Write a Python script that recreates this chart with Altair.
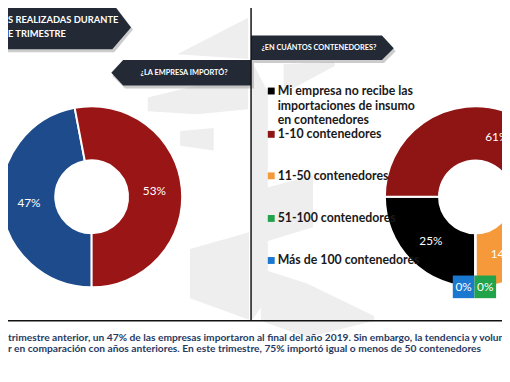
import math
import altair as alt
import pandas as pd

# ---------------- data ----------------
imp_cats = ["Sí", "No"]
imp_vals = [47, 53]
imp_colors = ["#1d4b8c", "#9a1515"]

cont_cats = [
    "Mi empresa no recibe las importaciones de insumo en contenedores",
    "1-10 contenedores",
    "11-50 contenedores",
    "51-100 contenedores",
    "Más de 100 contenedores",
]
cont_vals = [25, 61, 14, 0, 0]
cont_colors = ["#000000", "#8f1414", "#f6993a", "#20a34a", "#1b78d0"]
legend_lines = [
    ["Mi empresa no recibe las", "importaciones de insumo", "en contenedores"],
    ["1-10 contenedores"],
    ["11-50 contenedores"],
    ["51-100 contenedores"],
    ["Más de 100 contenedores"],
]

title_lines = ["S REALIZADAS DURANTE", "E TRIMESTRE"]
q1 = "¿LA EMPRESA IMPORTÓ?"
q2 = "¿EN CUÁNTOS CONTENEDORES?"
foot_lines = [
    "trimestre anterior, un 47% de las empresas importaron al final del año 2019. Sin embargo, la  tendencia y volumen",
    "r en comparación con años anteriores. En este trimestre, 75% importó igual o menos de 50 contenedores",
]

# ---------------- layout ----------------
W, H = 502, 355
FONT = "Lato"
DARK = "#232a36"
WM = "#eeeeee"
LCX, LCY = 85, 189
RCX, RCY = 475, 189
R_OUT, R_IN, R_LAB = 92, 37, 64
theta_scale = alt.Scale(range=[math.pi, 3 * math.pi])


def polygon(xs, ys, y2s, color, opacity=1.0, off=8):
    df = pd.DataFrame({"x": [v - off for v in xs], "y": [v - off for v in ys], "y2": [v - off for v in y2s]})
    return alt.Chart(df).mark_area(color=color, orient="vertical", opacity=opacity).encode(
        x=alt.X("x:Q", scale=None, axis=None),
        y=alt.Y("y:Q", scale=None, axis=None),
        y2="y2:Q",
    )


def text_at(txt, x, y, size, color, bold=True, align="left"):
    return alt.Chart(pd.DataFrame({"t": [txt]})).mark_text(
        font=FONT, fontSize=size, fontWeight="bold" if bold else "normal",
        color=color, align=align, baseline="middle",
    ).encode(text="t:N", x=alt.value(x), y=alt.value(y))


# faint background watermark shapes (page coordinates)
wm = [
    polygon([180, 252], [52, 15], [52, 57], WM),
    polygon([150, 200, 252], [96, 84, 84], [110, 113, 108], WM),
    polygon([183, 217], [130, 127], [145, 150], WM),
    polygon([193, 253], [250, 233], [300, 322], WM),
    polygon([256, 272], [60, 90], [322, 300], WM),
    polygon([262, 318], [190, 175], [245, 228], WM),
    polygon([265, 312, 380], [270, 285, 318], [323, 340, 323], WM),
    polygon([288, 340], [62, 60], [92, 64], WM),
]

# banners (with soft shadows), page coordinates
b1_sh = polygon([0, 116, 135], [2, 2, 27], [50, 50, 27], "#9a9a9a", 0.5)
b1 = polygon([0, 114, 133], [0, 0, 25], [47, 47, 25], DARK)
b2_sh = polygon([114, 127, 258], [74, 61, 61], [74, 87, 87], "#9a9a9a", 0.5)
b2 = polygon([113, 125, 255], [71, 58, 58], [71, 84, 84], DARK)
b3_sh = polygon([255, 390, 402], [36, 36, 49], [61, 61, 49], "#9a9a9a", 0.5)
b3 = polygon([255, 388, 400], [33, 33, 46], [58, 58, 46], DARK)

t1 = text_at(title_lines[0], 0, 9, 9.5, "white")
t2 = text_at(title_lines[1], 0, 24, 9.5, "white")
t3 = text_at(q1, 179, 63, 7.5, "white", align="center")
t4 = text_at(q2, 316, 38, 7.5, "white", align="center")

# dividers
vrule = alt.Chart(pd.DataFrame({"a": [0]})).mark_rule(color="#111111", strokeWidth=1.5).encode(
    x=alt.value(247), y=alt.value(-8), y2=alt.value(315))
hrule = alt.Chart(pd.DataFrame({"a": [0]})).mark_rule(color="#111111", strokeWidth=1.5).encode(
    x=alt.value(-8), x2=alt.value(W), y=alt.value(315))

# left donut
df_imp = pd.DataFrame({"cat": imp_cats, "value": imp_vals, "idx": range(len(imp_cats))})
df_imp["label"] = [f"{v}%" for v in imp_vals]
base_l = alt.Chart(df_imp).encode(
    theta=alt.Theta("value:Q", stack=True, scale=theta_scale),
    order=alt.Order("idx:Q"),
    x=alt.value(LCX), y=alt.value(LCY),
)
arc_l = base_l.mark_arc(outerRadius=R_OUT, innerRadius=R_IN, stroke="white", strokeWidth=2).encode(
    color=alt.Color("cat:N", scale=alt.Scale(domain=imp_cats, range=imp_colors), legend=None))
lab_l = base_l.mark_text(radius=R_LAB, font=FONT, fontSize=12, color="white").encode(text="label:N")

# right donut
df_c = pd.DataFrame({"cat": cont_cats, "value": cont_vals, "idx": range(len(cont_cats))})
df_c["label"] = [f"{v}%" for v in cont_vals]
base_r = alt.Chart(df_c).encode(
    theta=alt.Theta("value:Q", stack=True, scale=theta_scale),
    order=alt.Order("idx:Q"),
    x=alt.value(RCX), y=alt.value(RCY),
)
arc_r = base_r.mark_arc(outerRadius=R_OUT, innerRadius=R_IN, stroke="white", strokeWidth=2).encode(
    color=alt.Color("cat:N", scale=alt.Scale(domain=cont_cats, range=cont_colors), legend=None))
lab_r = base_r.transform_filter("datum.value > 0").mark_text(
    radius=R_LAB, font=FONT, fontSize=12, color="white").encode(text="label:N")

# zero-value label boxes (blue then green)
zero_layers = []
box_x = [452, 474]
for k, ci in enumerate([4, 3]):
    x0 = box_x[k]
    zero_layers.append(alt.Chart(pd.DataFrame({"a": [0]})).mark_rect(color=cont_colors[ci]).encode(
        x=alt.value(x0), x2=alt.value(x0 + 22), y=alt.value(269), y2=alt.value(292)))
    zero_layers.append(text_at(f"{cont_vals[ci]}%", x0 + 11, 281, 12, "white", bold=False, align="center"))

# custom legend
entry_y = [81.5, 125.5, 167.7, 211, 253.7]
sq_rows, tx_rows = [], []
for i, lines in enumerate(legend_lines):
    sq_rows.append({"cat": cont_cats[i], "py": entry_y[i]})
    for j, ln in enumerate(lines):
        tx_rows.append({"t": ln, "py": entry_y[i] + j * 15})
leg_sq = alt.Chart(pd.DataFrame(sq_rows)).mark_square(size=49, opacity=1).encode(
    x=alt.value(267.5),
    y=alt.Y("py:Q", scale=None, axis=None),
    color=alt.Color("cat:N", scale=alt.Scale(domain=cont_cats, range=cont_colors), legend=None),
)
leg_tx = alt.Chart(pd.DataFrame(tx_rows)).mark_text(
    font=FONT, fontSize=12.5, fontWeight="bold", color="#1a1a1a", align="left", baseline="middle"
).encode(x=alt.value(274), y=alt.Y("py:Q", scale=None, axis=None), text="t:N")

# footer
f1 = text_at(foot_lines[0], 0, 333, 10.4, "#283a63")
f2 = text_at(foot_lines[1], 0, 344, 10.4, "#283a63")

chart = alt.layer(
    *wm,
    b1_sh, b1, b2_sh, b2, b3_sh, b3, t1, t2, t3, t4,
    vrule, hrule,
    arc_l, lab_l, arc_r, lab_r, *zero_layers,
    leg_sq, leg_tx, f1, f2,
).resolve_scale(
    theta="independent", color="independent"
).properties(
    width=W, height=H, padding=0, autosize=alt.AutoSizeParams(type="none"), background="white"
).configure_view(stroke=None)

chart.save("out.html", embed_options={"renderer": "svg", "actions": False})
